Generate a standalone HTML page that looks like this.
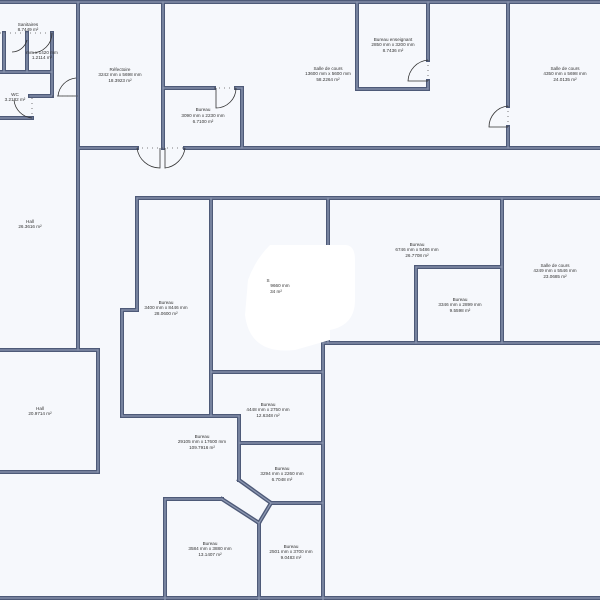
<!DOCTYPE html>
<html><head><meta charset="utf-8"><style>
html,body{margin:0;padding:0;background:#f6f8fc;}
svg{display:block}
text{font-family:"Liberation Sans",sans-serif;font-size:4.6px;fill:#333;text-anchor:middle}
</style></head><body>
<svg width="600" height="600" viewBox="0 0 600 600" xmlns="http://www.w3.org/2000/svg">
<rect width="600" height="600" fill="#f6f8fc"/>
<defs>
<g id="w" fill="none" stroke-linecap="square">
<line x1="0" y1="2" x2="600" y2="2"/>
<line x1="78" y1="2" x2="78" y2="350"/>
<line x1="163" y1="2" x2="163" y2="148"/>
<line x1="80" y1="148" x2="137" y2="148"/>
<line x1="185" y1="148" x2="600" y2="148"/>
<line x1="163" y1="88" x2="214" y2="88"/>
<line x1="236" y1="88" x2="242" y2="88"/>
<line x1="242" y1="88" x2="242" y2="148"/>
<line x1="357" y1="2" x2="357" y2="89"/>
<line x1="357" y1="89" x2="428" y2="89"/>
<line x1="428" y1="2" x2="428" y2="60"/>
<line x1="428" y1="81" x2="428" y2="89"/>
<line x1="508" y1="2" x2="508" y2="106"/>
<line x1="508" y1="127" x2="508" y2="148"/>
<line x1="4" y1="33" x2="4" y2="72"/>
<line x1="27" y1="33" x2="27" y2="72"/>
<line x1="52" y1="33" x2="52" y2="95"/>
<line x1="0" y1="72" x2="52" y2="72"/>
<line x1="30" y1="96" x2="52" y2="96"/>
<line x1="0" y1="118" x2="32" y2="118"/>
<line x1="0" y1="350" x2="98" y2="350"/>
<line x1="98" y1="350" x2="98" y2="472"/>
<line x1="0" y1="472" x2="98" y2="472"/>
<line x1="137" y1="198" x2="600" y2="198"/>
<line x1="137" y1="198" x2="137" y2="310"/>
<line x1="137" y1="310" x2="122" y2="310"/>
<line x1="122" y1="310" x2="122" y2="416"/>
<line x1="122" y1="416" x2="239" y2="416"/>
<line x1="211" y1="198" x2="211" y2="416"/>
<line x1="211" y1="372" x2="323" y2="372"/>
<line x1="239" y1="416" x2="239" y2="480"/>
<line x1="239" y1="480" x2="271" y2="503"/>
<line x1="271" y1="503" x2="259" y2="523"/>
<line x1="165" y1="499" x2="222" y2="499"/>
<line x1="222" y1="499" x2="259" y2="523"/>
<line x1="165" y1="499" x2="165" y2="600"/>
<line x1="259" y1="523" x2="259" y2="600"/>
<line x1="271" y1="503" x2="323" y2="503"/>
<line x1="240" y1="443" x2="323" y2="443"/>
<line x1="323" y1="343" x2="323" y2="600"/>
<line x1="323" y1="343" x2="600" y2="343"/>
<line x1="328" y1="198" x2="328" y2="245"/>
<line x1="328" y1="328" x2="328" y2="343"/>
<line x1="502" y1="198" x2="502" y2="343"/>
<line x1="416" y1="267" x2="502" y2="267"/>
<line x1="416" y1="267" x2="416" y2="343"/>
<line x1="0" y1="598" x2="600" y2="598"/>
</g>
</defs>
<use href="#w" stroke="#4e5a78" stroke-width="4"/>
<use href="#w" stroke="#8d98b2" stroke-width="1.3"/>
<g stroke="#333" stroke-width="0.8" fill="none">
<path d="M137 148 A23 23 0 0 0 160 168 L160 148"/>
<path d="M185 148 A23 23 0 0 1 165 168 L165 148"/>
<path d="M236 88 A20 20 0 0 1 216 108 L216 88"/>
<path d="M428 60 A22 22 0 0 0 408 81 L428 81"/>
<path d="M508 106 A21 21 0 0 0 489 127 L508 127"/>
<path d="M76 78 A20 20 0 0 0 58 96 L76 96"/>
<path d="M32 118 A20 20 0 0 1 14 100"/>
<path d="M52 33 A20 20 0 0 1 32 53"/>
<path d="M27 40 A16 16 0 0 1 12 52"/>
</g>
<g stroke="#555" stroke-width="0.8" stroke-dasharray="1 4" fill="none">
<line x1="137" y1="148" x2="185" y2="148"/>
<line x1="214" y1="88" x2="236" y2="88"/>
<line x1="428" y1="60" x2="428" y2="81"/>
<line x1="508" y1="106" x2="508" y2="127"/>
<line x1="52" y1="96" x2="78" y2="96"/>
<line x1="0" y1="33" x2="52" y2="33"/>
<line x1="32" y1="98" x2="32" y2="118"/>
</g>
<path d="M270 245 L345 245 Q355 245 355 260 L355 300 Q355 325 330 330 L330 340 L295 350 Q250 355 245 315 L248 280 Q255 260 270 245 Z" fill="#ffffff"/>
<text x="28" y="26">Sanitaires</text><text x="28" y="31">8.7449 m²</text>
<text x="15" y="96">WC</text><text x="15" y="101">3.2182 m²</text>
<text x="42" y="54">mm x 1420 mm</text><text x="42" y="59">1.2114 m²</text>
<text x="120" y="71">Réfectoire</text><text x="120" y="76">3242 mm x 5698 mm</text><text x="120" y="82">18.3923 m²</text>
<text x="203" y="111">Bureau</text><text x="203" y="117">3090 mm x 2230 mm</text><text x="203" y="123">6.7100 m²</text>
<text x="328" y="70">Salle de cours</text><text x="328" y="75">13600 mm x 5600 mm</text><text x="328" y="81">58.2264 m²</text>
<text x="393" y="41">Bureau enseignant</text><text x="393" y="46">2850 mm x 3200 mm</text><text x="393" y="52">8.7436 m²</text>
<text x="565" y="70">Salle de cours</text><text x="565" y="75">4350 mm x 5698 mm</text><text x="565" y="81">24.0135 m²</text>
<text x="30" y="223">Hall</text><text x="30" y="228">26.3616 m²</text>
<text x="166" y="304">Bureau</text><text x="166" y="309">3400 mm x 8446 mm</text><text x="166" y="315">28.0600 m²</text>
<text x="268" y="282">S</text><text x="280" y="287">9660 mm</text><text x="276" y="293">34 m²</text>
<text x="417" y="246">Bureau</text><text x="417" y="251">6746 mm x 5486 mm</text><text x="417" y="257">26.7708 m²</text>
<text x="460" y="301">Bureau</text><text x="460" y="306">3346 mm x 2899 mm</text><text x="460" y="312">9.5598 m²</text>
<text x="555" y="267">Salle de cours</text><text x="555" y="272">4249 mm x 5546 mm</text><text x="555" y="278">23.0685 m²</text>
<text x="40" y="410">Hall</text><text x="40" y="415">20.9714 m²</text>
<text x="268" y="406">Bureau</text><text x="268" y="411">4448 mm x 2750 mm</text><text x="268" y="417">12.6348 m²</text>
<text x="202" y="438">Bureau</text><text x="202" y="443">29105 mm x 17600 mm</text><text x="202" y="449">109.7916 m²</text>
<text x="282" y="470">Bureau</text><text x="282" y="475">3294 mm x 2260 mm</text><text x="282" y="481">6.7048 m²</text>
<text x="210" y="545">Bureau</text><text x="210" y="550">3584 mm x 3880 mm</text><text x="210" y="556">13.1407 m²</text>
<text x="291" y="548">Bureau</text><text x="291" y="553">2501 mm x 3700 mm</text><text x="291" y="559">9.0483 m²</text>
</svg>
</body></html>
